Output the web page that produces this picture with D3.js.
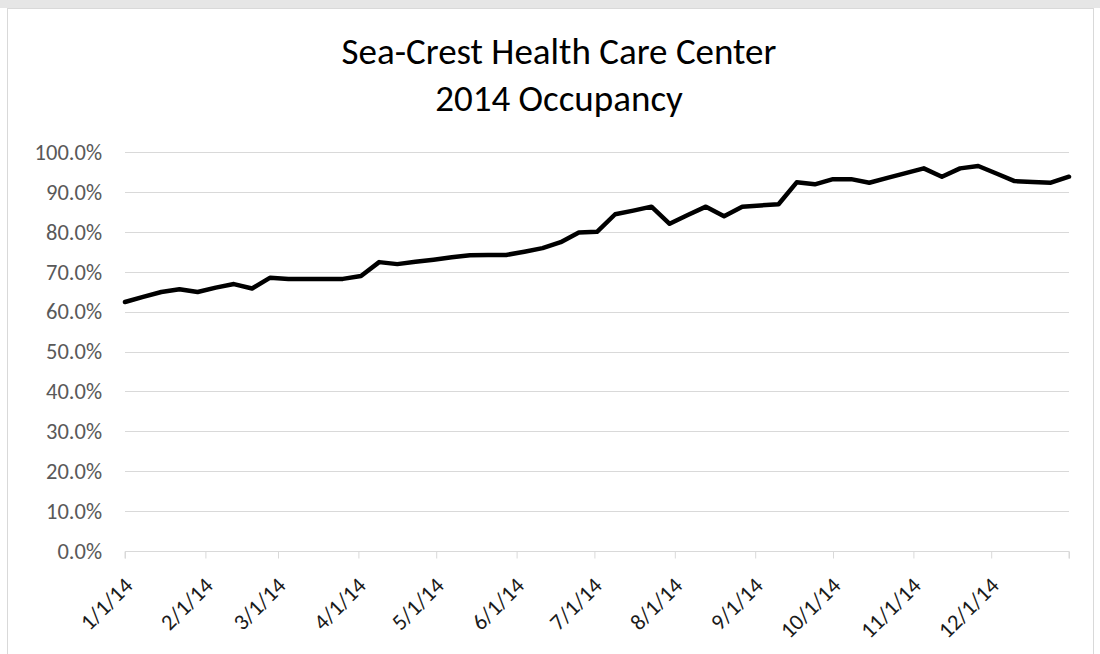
<!DOCTYPE html>
<html>
<head>
<meta charset="utf-8">
<script src="https://cdn.jsdelivr.net/npm/d3@7"></script>
<style>
  body { margin: 0; background: #fff; }
  svg { display: block; }
</style>
</head>
<body>
<div id="chart"></div>
<script>
// weekly census dates (2014)
var weekDates = [
  '2014-01-01', '2014-01-08', '2014-01-15', '2014-01-22', '2014-01-29',
  '2014-02-05', '2014-02-12', '2014-02-19', '2014-02-26',
  '2014-03-05', '2014-03-12', '2014-03-19', '2014-03-26',
  '2014-04-02', '2014-04-09', '2014-04-16', '2014-04-23', '2014-04-30',
  '2014-05-07', '2014-05-14', '2014-05-21', '2014-05-28',
  '2014-06-04', '2014-06-11', '2014-06-18', '2014-06-25',
  '2014-07-02', '2014-07-09', '2014-07-16', '2014-07-23', '2014-07-30',
  '2014-08-06', '2014-08-13', '2014-08-20', '2014-08-27',
  '2014-09-03', '2014-09-10', '2014-09-17', '2014-09-24',
  '2014-10-01', '2014-10-08', '2014-10-15', '2014-10-22', '2014-10-29',
  '2014-11-05', '2014-11-12', '2014-11-19', '2014-11-26',
  '2014-12-03', '2014-12-10', '2014-12-17', '2014-12-24', '2014-12-31'
];

// occupancy %
var occupancy = [
  62.4, 63.7, 64.9, 65.6, 64.9,
  66.0, 66.9, 65.8, 68.5,
  68.2, 68.2, 68.2, 68.2,
  68.9, 72.4, 71.9, 72.5, 73.0,
  73.6, 74.1, 74.2, 74.2,
  75.0, 75.9, 77.4, 79.8,
  80.0, 84.4, 85.3, 86.3, 82.0,
  84.2, 86.3, 83.9, 86.3,
  86.6, 86.9, 92.4, 91.9,
  93.2, 93.2, 92.3, 93.5, 94.7,
  95.9, 93.8, 95.9, 96.5,
  94.6, 92.7, 92.5, 92.3, 93.8
];

var yTicks = [0, 10, 20, 30, 40, 50, 60, 70, 80, 90, 100];
var titleLines = ['Sea-Crest Health Care Center', '2014 Occupancy'];

var width = 1100;
var height = 654;
var margin = { left: 125, right: 31, top: 152, bottom: 103 };
var font = 'Carlito, Calibri, "Open Sans", sans-serif';

var parseDate = d3.utcParse('%Y-%m-%d');
var fmtDate = d3.utcFormat('%-m/%-d/%y');

var data = weekDates.map((d, i) => ({ date: parseDate(d), value: occupancy[i] }));

var svg = d3.select('#chart')
  .append('svg')
  .attr('width', width)
  .attr('height', height);

// grey strip at the top + chart frame
svg.append('rect')
  .attr('x', 0).attr('y', 0)
  .attr('width', width).attr('height', 8)
  .attr('fill', '#e6e6e6');

svg.append('rect')
  .attr('x', 7.5).attr('y', 8.5)
  .attr('width', 1086).attr('height', 660)
  .attr('fill', '#fff')
  .attr('stroke', '#d9d9d9');

// title
svg.append('g').selectAll('text')
  .data(titleLines)
  .enter()
  .append('text')
  .attr('x', 559)
  .attr('y', (d, i) => 64 + i * 47)
  .attr('text-anchor', 'middle')
  .style('font-family', font)
  .style('font-size', '37px')
  .style('fill', '#000')
  .text(d => d);

var x = d3.scaleUtc()
  .domain([data[0].date, data[data.length - 1].date])
  .range([margin.left, width - margin.right]);

var y = d3.scaleLinear()
  .domain([0, 100])
  .range([height - margin.bottom, margin.top]);

// gridlines
svg.append('g').selectAll('line')
  .data(yTicks.slice(1))
  .enter()
  .append('line')
  .attr('x1', x.range()[0]).attr('x2', x.range()[1])
  .attr('y1', d => Math.round(y(d)) + 0.5)
  .attr('y2', d => Math.round(y(d)) + 0.5)
  .attr('stroke', '#d9d9d9');

// y labels
svg.append('g').selectAll('text')
  .data(yTicks)
  .enter()
  .append('text')
  .attr('x', 102)
  .attr('y', d => y(d))
  .attr('dy', '0.35em')
  .attr('text-anchor', 'end')
  .style('font-family', font)
  .style('font-size', '22.5px')
  .style('fill', '#595959')
  .text(d => d.toFixed(1) + '%');

// x axis
var monthTicks = d3.utcMonth.range(data[0].date, d3.utcDay.offset(data[data.length - 1].date, 1));
var xAxis = svg.append('g')
  .attr('transform', `translate(0, ${Math.round(y(0)) + 0.5})`)
  .call(d3.axisBottom(x)
    .tickValues(monthTicks.concat([x.domain()[1]]))
    .tickSize(7)
    .tickFormat(''));
xAxis.selectAll('path, line').attr('stroke', '#d9d9d9');
xAxis.select('.domain').attr('d', `M${x.range()[0]},7V0H${x.range()[1]}V7`);

svg.append('g').selectAll('text')
  .data(monthTicks)
  .enter()
  .append('text')
  .attr('transform', d => `translate(${x(d) + 9}, 587) rotate(-45)`)
  .attr('text-anchor', 'end')
  .style('font-family', font)
  .style('font-size', '22.5px')
  .style('fill', '#1a1a1a')
  .text(d => fmtDate(d));

// occupancy line
var line = d3.line()
  .x(d => x(d.date))
  .y(d => y(d.value));

svg.append('path')
  .datum(data)
  .attr('d', line)
  .attr('fill', 'none')
  .attr('stroke', '#000')
  .attr('stroke-width', 4.5)
  .attr('stroke-linejoin', 'round')
  .attr('stroke-linecap', 'round');
</script>
</body>
</html>
